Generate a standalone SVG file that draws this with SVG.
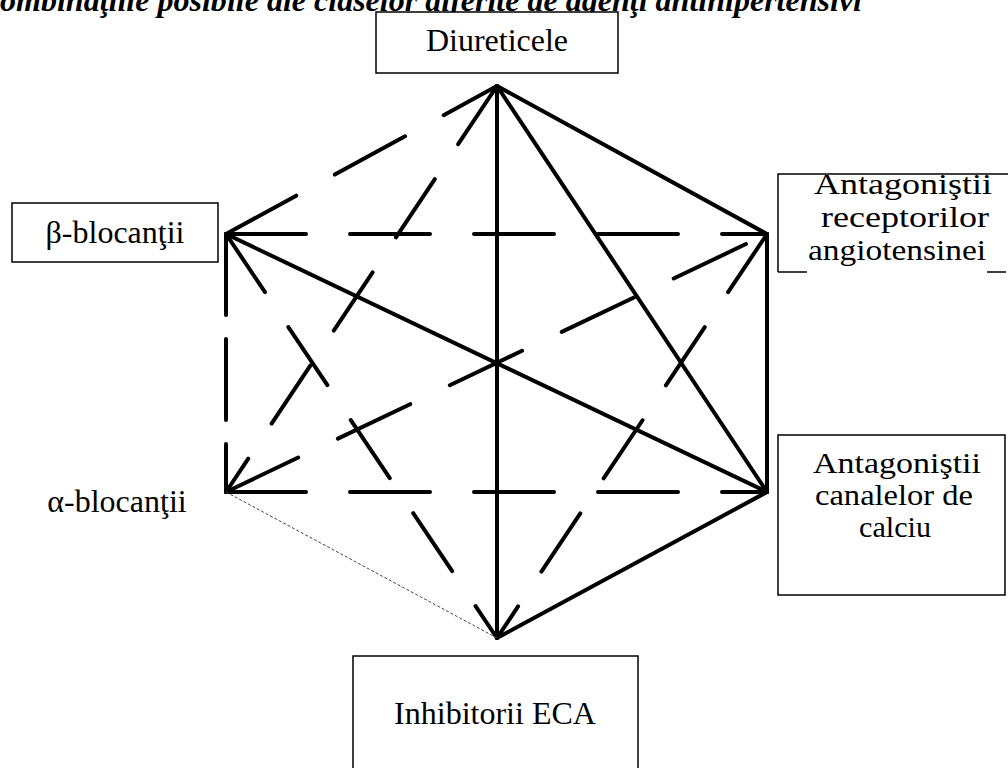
<svg xmlns="http://www.w3.org/2000/svg" width="1008" height="768" viewBox="0 0 1008 768">
<style>
.t{font-family:"Liberation Serif","Times New Roman",serif;font-size:32px;fill:#000;text-anchor:middle}
.m{font-family:"Liberation Serif","Times New Roman",serif;font-size:29px;fill:#000;text-anchor:middle}
.title{font-family:"Liberation Serif","Times New Roman",serif;font-size:32px;font-weight:bold;font-style:italic;fill:#000}
.box{fill:#fff;stroke:#000;stroke-width:1.5}
.s{fill:none;stroke:#000;stroke-width:4;stroke-linecap:round}
.d1{fill:none;stroke:#000;stroke-width:4;stroke-linecap:round;stroke-dasharray:80 44}
.d2{fill:none;stroke:#000;stroke-width:4;stroke-linecap:round;stroke-dasharray:70 42}
.d3{fill:none;stroke:#000;stroke-width:4;stroke-linecap:round;stroke-dasharray:81 24}
.thin{fill:none;stroke:#444;stroke-width:1;stroke-dasharray:3 2}
</style>
<rect width="1008" height="768" fill="#fff"/>
<text class="title" x="0" y="11" textLength="862" lengthAdjust="spacingAndGlyphs">ombinaţiile posibile ale claselor diferite de agenţi antihipertensivi</text>
<g id="connectors">
<path class="s" d="M497,86 L497,638"/>
<path class="s" d="M497,86 L767,234"/>
<path class="s" d="M497,86 L767,492"/>
<path class="s" d="M226,234 L767,492"/>
<path class="s" d="M767,234 L767,492"/>
<path class="s" d="M497,638 L767,492"/>
<path class="d1" d="M226,234 L497,86"/>
<path class="d1" d="M226,234 L767,234"/>
<path class="d3" d="M226,234 L226,492"/>
<path class="d2" d="M226,234 L497,638"/>
<path class="d2" d="M497,86 L226,492"/>
<path class="d1" d="M226,492 L767,234"/>
<path class="d1" d="M226,492 L767,492"/>
<path class="d2" d="M767,234 L497,638"/>
<path class="thin" d="M226,492 L497,638"/>
</g>
<g id="node-diuretice">
<rect class="box" x="376" y="12" width="242" height="61"/>
<text class="t" x="497" y="51">Diureticele</text>
</g>
<g id="node-beta">
<rect class="box" x="12" y="203" width="206" height="59"/>
<text class="t" x="115" y="243">β-blocanţii</text>
</g>
<g id="node-alpha">
<text class="t" x="117" y="512">α-blocanţii</text>
</g>
<g id="node-ara">
<path fill="none" stroke="#000" stroke-width="1.5" d="M778,272 L778,174 L1012,174 M778,272 L807,272 M987,272 L1006,272"/>
<text class="m" x="903" y="194" textLength="178" lengthAdjust="spacingAndGlyphs">Antagoniştii</text>
<text class="m" x="905" y="227" textLength="168" lengthAdjust="spacingAndGlyphs">receptorilor</text>
<text class="m" x="897" y="260" textLength="178" lengthAdjust="spacingAndGlyphs">angiotensinei</text>
</g>
<g id="node-cca">
<rect class="box" x="778" y="435" width="227" height="160"/>
<text class="m" x="897" y="473" textLength="168" lengthAdjust="spacingAndGlyphs">Antagoniştii</text>
<text class="m" x="894" y="505" textLength="158" lengthAdjust="spacingAndGlyphs">canalelor de</text>
<text class="m" x="895" y="537" textLength="72" lengthAdjust="spacingAndGlyphs">calciu</text>
</g>
<g id="node-ieca">
<rect class="box" x="353" y="656" width="285" height="130"/>
<text class="t" x="495" y="724">Inhibitorii ECA</text>
</g>
</svg>
